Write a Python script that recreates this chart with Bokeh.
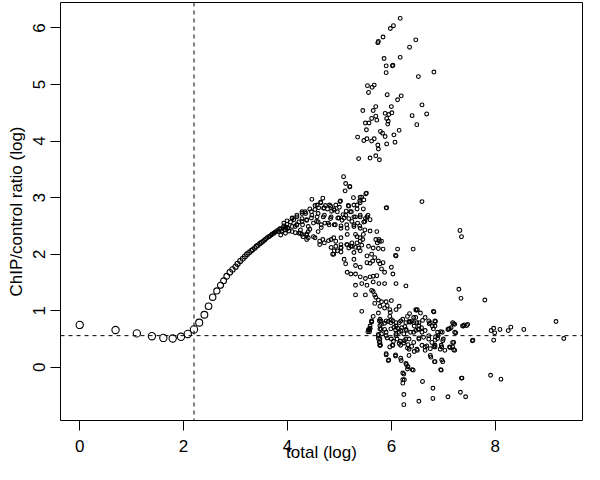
import numpy as np
from bokeh.plotting import figure
from bokeh.models import Range1d, FixedTicker, Span, ColumnDataSource
from bokeh.embed import file_html
from bokeh.resources import INLINE

# ---- data: (total (log), ChIP/control ratio (log)) ----
curve = [(0.00,0.75),(0.69,0.66),(1.10,0.60),(1.39,0.55),(1.61,0.52),(1.79,0.51),(1.95,0.54),(2.08,0.59),
         (2.20,0.67),(2.30,0.79),(2.40,0.93),(2.48,1.08),(2.56,1.24),(2.64,1.35),(2.71,1.45),(2.77,1.53),
         (2.83,1.61),(2.89,1.68),(2.94,1.73),(3.00,1.78),(3.04,1.83),(3.09,1.88),(3.14,1.92),(3.18,1.96),
         (3.22,2.00),(3.26,2.03),(3.30,2.06),(3.33,2.08),(3.37,2.11),(3.40,2.14),(3.43,2.16),(3.47,2.19),
         (3.50,2.21),(3.53,2.23),(3.56,2.25),(3.58,2.27),(3.61,2.29),(3.64,2.31),(3.66,2.32),(3.69,2.34),
         (3.71,2.36),(3.74,2.37),(3.76,2.39),(3.78,2.40),(3.81,2.42),(3.83,2.40),(3.85,2.45),(3.87,2.44),
         (3.89,2.41),(3.91,2.47),(3.93,2.50),(3.95,2.43),(3.97,2.48),(3.99,2.53),(4.01,2.46),(4.22,2.37),
         (4.37,2.36),(4.43,2.44),(4.30,2.31)]

hump = [(5.51,3.07),(5.40,3.01),(5.27,3.00),(5.39,2.94),(5.47,2.96),(4.47,2.97),(4.68,2.99),(4.64,2.92),
        (4.57,2.87),(4.73,2.86),(4.81,2.87),(5.02,2.94),(4.93,2.87),(5.00,2.83),(5.17,2.86),(5.28,2.87),
        (5.34,2.80),(5.23,2.75),(5.13,2.76),(5.07,2.70),(4.89,2.80),(4.85,2.76),(4.77,2.80),(4.70,2.82),
        (4.60,2.82),(4.53,2.79),(4.43,2.80),(4.35,2.72),(4.47,2.69),(4.57,2.66),(4.69,2.66),(4.83,2.63),
        (4.97,2.64),(5.05,2.60),(5.18,2.63),(5.31,2.66),(5.40,2.66),(5.50,2.63),(5.55,2.69),(5.47,2.57),
        (5.39,2.50),(5.28,2.52),(5.14,2.52),(5.03,2.50),(4.92,2.52),(4.80,2.52),(4.65,2.47),(4.59,2.40),
        (4.40,2.40),(4.37,2.34),(4.29,2.52),(4.22,2.57),(4.12,2.61),(4.06,2.57),(4.15,2.49),(4.25,2.43),
        (4.68,2.26),(4.79,2.24),(4.89,2.29),(4.93,2.14),(5.03,2.17),(5.14,2.17),(5.22,2.14),(4.89,2.00),
        (5.03,2.04),(5.34,2.31),(5.40,2.23),(5.37,2.11),(5.28,2.03),
        (4.09,2.63),(4.18,2.69),(4.28,2.75),(3.87,2.34),(3.96,2.37),(4.00,2.46),(4.09,2.40),(4.18,2.52),
        (4.28,2.63),(4.37,2.60),(4.25,2.37),(4.40,2.49),(4.50,2.55),(4.59,2.57),(4.72,2.55),(4.37,2.26),
        (4.50,2.31),(4.62,2.17),
        (5.08,3.37),(5.12,3.25),(5.20,3.20),(5.11,3.12),(5.20,3.19),(5.52,3.08),(5.43,3.01),(5.90,2.82),
        (4.64,2.91),(4.53,2.86),(4.70,2.81),(4.83,2.85),(5.01,2.93),(4.90,2.78),(4.96,2.75),(5.18,2.85),
        (5.34,2.87),(5.40,2.91),(5.46,2.80),(5.21,2.75),(5.12,2.69),(5.28,2.66),(5.40,2.69),(5.53,2.66),
        (5.59,2.61),(5.49,2.58),(5.35,2.55),(5.24,2.58),(5.09,2.64),(4.99,2.64),(4.84,2.66),(4.71,2.69),
        (4.59,2.72),(4.46,2.75),(4.34,2.75),(4.28,2.72),(4.18,2.66),(4.09,2.64),(3.99,2.59),(3.93,2.55),
        (3.96,2.46),(4.09,2.49),(4.18,2.52),(4.28,2.58),(4.37,2.61),(4.46,2.64),(4.56,2.58),(4.65,2.52),
        (4.78,2.55),(4.90,2.52),(5.03,2.46),(5.15,2.46),(5.28,2.49),(5.40,2.46),(5.49,2.43),(5.59,2.41),
        (5.46,2.35),(5.31,2.35),(5.15,2.35),(5.03,2.29),(4.93,2.23),(4.84,2.26),(4.71,2.20),(4.62,2.23),
        (4.53,2.29),(4.40,2.29),(4.28,2.35),(4.15,2.38),(4.03,2.41),(4.84,2.12),(4.96,2.06),(5.03,2.12),
        (5.15,2.17),(5.24,2.20),(5.31,2.12),(5.40,2.06)]

fall = [(5.72,2.40),(5.76,2.26),(5.81,2.23),(5.73,2.20),(6.12,2.09),(6.42,2.09),(6.09,1.97),
        (5.56,2.14),(5.65,2.11),(5.75,2.10),(5.84,2.09),(5.40,2.29),(5.45,2.26),(5.34,2.20),(5.43,2.16),
        (5.25,2.14),(5.18,2.11),(5.03,2.11),(4.90,2.06),(4.87,2.00),(5.09,1.91),(5.12,1.83),(5.28,1.91),
        (5.31,1.80),(5.40,1.77),(5.53,1.97),(5.62,2.00),(5.68,1.94),(5.53,1.85),(5.59,1.84),(5.64,1.88),
        (5.75,1.88),(5.78,1.83),(5.84,1.85),(5.81,1.74),(5.87,1.68),(6.00,1.77),(6.03,1.65),(5.15,1.68),
        (5.22,1.65),(5.31,1.65),(5.40,1.60),(5.50,1.57),(5.59,1.60),(5.65,1.61),(5.72,1.62),(5.43,1.48),
        (5.53,1.45),(5.65,1.51),(5.76,1.48),(5.87,1.48),(5.31,1.45),(6.09,1.48),(6.28,1.44),(5.31,1.28),
        (5.50,1.28),(5.65,1.34),(5.68,1.28),(5.75,1.19),(5.81,1.16),(5.90,1.16),(6.00,1.18),(5.68,1.13),
        (5.78,1.08),(5.87,1.05),(5.97,1.02),(6.09,1.02),(6.15,1.08),(5.43,0.99),(6.47,1.02),
        (5.77,2.23),(5.70,2.26),(5.62,1.36),(5.70,1.24),(5.92,1.09),(5.98,0.97),(6.08,1.98)]

tail = [(5.62,0.82),(5.77,0.82),(5.90,0.82),(5.99,0.79),(6.09,0.79),(6.18,0.82),(6.28,0.79),(6.37,0.80),
        (6.47,0.88),(6.53,0.79),(6.72,0.82),(6.84,0.82),(7.18,0.79),(7.40,0.75),(5.59,0.68),(5.58,0.63),
        (5.78,0.68),(5.90,0.62),(5.99,0.68),(6.15,0.62),(6.29,0.65),(6.43,0.62),(6.53,0.68),(6.65,0.65),
        (6.81,0.68),(6.89,0.62),(7.10,0.68),(7.22,0.62),(5.78,0.50),(6.09,0.56),(6.28,0.50),(6.53,0.52),
        (6.72,0.50),(6.84,0.48),(5.78,0.39),(5.97,0.36),(6.18,0.39),(6.34,0.32),(6.65,0.36),(6.84,0.36),
        (7.03,0.30),(7.18,0.36),
        (9.17,0.81),(9.32,0.51),(8.55,0.67),(8.30,0.71),(8.25,0.65),(8.09,0.67),(7.97,0.69),(7.92,0.65),
        (7.99,0.61),(7.97,0.48),(7.57,0.48),(7.91,-0.14),(8.11,-0.21),(7.36,-0.19),(7.33,-0.44),(7.43,-0.52),
        (7.09,-0.52),(6.80,-0.37),(6.80,-0.55),(6.53,-0.60),(6.60,-0.25),(6.24,-0.66),(6.24,-0.48),(6.22,-0.28),
        (6.22,-0.22),(6.24,-0.12),(6.42,-0.05),(6.32,0.01),(6.29,0.05),(6.96,-0.05),(6.99,0.10),(6.83,0.10),
        (6.76,0.18),(6.19,0.12),(6.08,0.20),(5.94,0.12),(5.90,0.22),(7.20,0.44),(7.13,0.35),(7.20,0.31),
        (6.94,0.32),(6.96,0.39),(6.99,0.47),(6.98,0.62),(6.89,0.51),(6.85,0.54),(6.82,0.37),(6.75,0.33),
        (6.68,0.38),(6.59,0.39),(6.49,0.32),(6.44,0.28),(6.39,0.37),(6.31,0.34),(6.32,0.40),(6.24,0.43),
        (6.17,0.46),(6.11,0.50),(6.04,0.46),(6.02,0.39),(5.92,0.52),(5.79,0.39),(5.78,0.44),(5.75,0.51),
        (5.75,0.58),(5.80,0.67),(5.78,0.74),(5.80,0.82),(5.87,0.78),(5.94,0.81),(6.00,0.84),(6.05,0.71),
        (6.08,0.66),(6.12,0.69),(6.20,0.70),(6.24,0.59),(6.26,0.72),(6.34,0.81),(6.43,0.79),(6.43,0.88),
        (6.44,0.73),(6.49,0.79),(6.52,0.67),(6.58,0.70),(6.60,0.83),(6.35,0.95),(6.48,1.01),(6.82,0.98),
        (6.73,0.77),(6.85,0.81),(6.79,0.73),(6.95,0.63),(7.12,0.68),(7.20,0.77),(7.24,0.61),(7.37,0.73),
        (7.45,0.74),(7.15,0.70),(5.57,0.66),(5.59,0.69),(5.62,0.81),(5.55,0.63),
        (5.62,0.80),(5.59,0.73),(5.56,0.67),(5.65,0.90),(5.75,0.96),(5.78,0.85),
        (5.81,0.76),(5.87,0.67),(5.97,0.90),(6.03,0.82),(6.09,0.73),(6.15,0.79),(6.22,0.85),(6.31,0.90),
        (6.34,0.80),(6.40,0.82),(6.50,1.02),(6.56,0.96),(6.65,0.88),(6.81,0.99),(6.75,0.79),(6.84,0.73),
        (6.53,0.73),(6.59,0.62),(6.47,0.65),(6.37,0.62),(6.28,0.67),(6.18,0.65),(6.09,0.59),(6.00,0.50),
        (5.90,0.56),(5.81,0.59),(5.75,0.56),(5.77,0.45),(5.78,0.39),(6.03,0.39),(6.15,0.42),(6.25,0.47),
        (6.34,0.50),(6.43,0.44),(6.53,0.50),(6.62,0.53),(6.72,0.56),(6.78,0.44),(6.90,0.56),(7.00,0.50),
        (7.09,0.67),(7.22,0.76),(7.39,0.73),(7.47,0.76),(7.56,0.47),(7.18,0.44),(7.12,0.36),(7.22,0.30),
        (6.97,0.36),(6.84,0.39),(6.75,0.21),(6.84,0.10),(6.97,0.13),(6.65,0.30),(6.50,0.30),(6.34,0.21),
        (6.18,0.16),(6.08,0.22),(5.95,0.13),(5.90,0.24),(6.28,0.07),(6.31,-0.03),(6.40,-0.04),(6.22,-0.10),
        (6.25,-0.22),(6.95,-0.04),(7.35,-0.19)]

high = [(6.17,6.17),(6.04,6.04),(5.98,5.99),(5.84,5.84),(5.74,5.74),(5.75,5.76),(6.47,5.79),(6.35,5.66),
        (6.17,5.48),(5.86,5.46),(5.90,5.33),(6.02,5.33),(6.03,5.34),(5.90,5.21),(6.82,5.22),(6.52,5.14),
        (5.54,4.98),(5.63,4.95),(5.67,4.99),(5.56,4.86),(5.92,4.82),(6.19,4.80),(6.12,4.73),(6.59,4.64),
        (5.70,4.61),(6.00,4.61),(5.45,4.54),(5.65,4.54),(5.88,4.49),(5.95,4.47),(6.01,4.50),(6.68,4.48),
        (6.40,4.45),(5.62,4.40),(5.70,4.44),(5.72,4.37),(5.91,4.40),(5.94,4.35),(5.50,4.32),(5.57,4.32),
        (5.93,4.30),(6.49,4.29),(5.52,4.20),(6.15,4.19),(5.79,4.17),(5.83,4.14),(5.88,4.08),(6.05,4.11),
        (5.35,4.07),(5.47,4.01),(5.53,4.04),(5.62,4.00),(5.67,4.04),(5.74,3.93),(5.75,3.86),(5.91,3.95),
        (6.07,3.98),(5.37,3.69),(5.59,3.70),(5.70,3.74),(5.77,3.67),(6.59,2.93),(5.91,2.82),(7.32,2.42),
        (7.35,2.31),(7.30,1.38),(7.34,1.22),(7.80,1.19)]

segments = [curve, hump, fall, tail, high]
total_log = np.array([pt[0] for seg in segments for pt in seg])
ratio_log = np.array([pt[1] for seg in segments for pt in seg])

x_ticks = [0, 2, 4, 6, 8]
y_ticks = [0, 1, 2, 3, 4, 5, 6]
cutoff_total = 2.2
baseline_ratio = 0.56

# marker size shrinks as totals grow (symbol scaling of the original)
sizes = np.clip(7.3 - 2.5 * (total_log - 2.2), 3.8, 7.3)

src = ColumnDataSource(dict(x=total_log, y=ratio_log, s=sizes))

FONT = "Liberation Sans"
p = figure(width=584, height=464, output_backend="svg", toolbar_location=None,
           x_range=Range1d(-0.37, 9.68), y_range=Range1d(-0.94, 6.45),
           min_border_left=60, min_border_right=2, min_border_top=2, min_border_bottom=44)
p.scatter("x", "y", size="s", source=src, marker="circle", fill_color=None,
          line_color="black", line_width=1.1)

p.add_layout(Span(location=cutoff_total, dimension="height", line_color="black",
                  line_dash="4 4", line_width=1))
p.add_layout(Span(location=baseline_ratio, dimension="width", line_color="black",
                  line_dash="4 4", line_width=1))

p.grid.visible = False
p.outline_line_color = "black"
p.outline_line_width = 1
p.background_fill_color = "white"
p.border_fill_color = "white"

p.xaxis.ticker = FixedTicker(ticks=x_ticks)
p.yaxis.ticker = FixedTicker(ticks=y_ticks)
for ax in (p.xaxis, p.yaxis):
    ax.axis_line_color = None
    ax.major_tick_out = 10
    ax.major_tick_in = 0
    ax.minor_tick_out = 0
    ax.minor_tick_in = 0
    ax.major_tick_line_color = "black"
    ax.major_label_text_font = FONT
    ax.major_label_text_font_size = "17px"
    ax.major_label_text_color = "black"
    ax.axis_label_text_font = FONT
    ax.axis_label_text_font_size = "17px"
    ax.axis_label_text_font_style = "normal"
    ax.axis_label_text_color = "black"

p.xaxis.axis_label = "total (log)"
p.xaxis.major_label_standoff = 9
p.xaxis.axis_label_standoff = -12
p.yaxis.axis_label = "ChIP/control ratio (log)"
p.yaxis.major_label_orientation = "vertical"
p.yaxis.major_label_standoff = 5
p.yaxis.axis_label_standoff = 5

open("out.html", "w").write(file_html(p, INLINE))
